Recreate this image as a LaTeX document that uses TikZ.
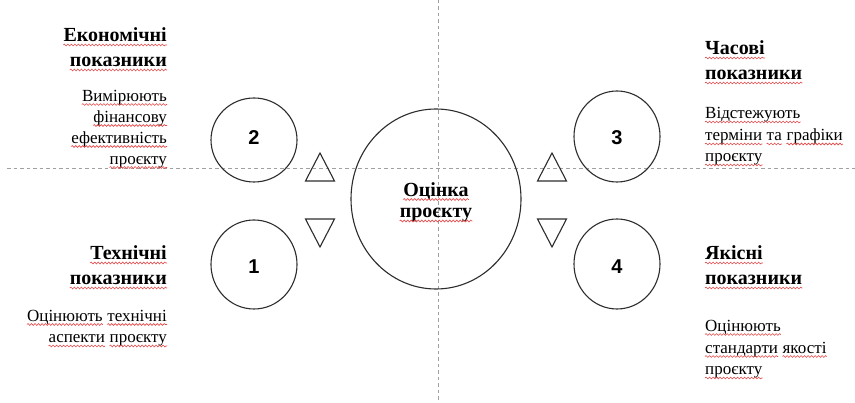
\documentclass[tikz,border=0pt]{standalone}
\usepackage{fontspec}
\setmainfont{Liberation Serif}
\newfontfamily\numfont{Liberation Sans}
\usetikzlibrary{shapes.geometric,decorations.pathmorphing}

\definecolor{wavered}{RGB}{230,70,70}
\definecolor{guide}{RGB}{160,160,160}
\definecolor{ink}{RGB}{45,45,45}

\tikzset{
  title/.style={font=\fontsize{20}{20}\selectfont\bfseries, inner sep=0pt},
  desc/.style={font=\fontsize{17}{17}\selectfont, inner sep=0pt},
  num/.style={font=\numfont\bfseries\fontsize{20}{20}\selectfont, inner sep=0pt},
  ring/.style={draw=ink, line width=1.1pt, ellipse, inner sep=0pt},
  tri/.style={draw=ink, line width=1.1pt, line join=miter},
  guideline/.style={draw=guide, line width=0.8pt, dash pattern=on 3.5pt off 3pt},
  wavy/.style={draw=wavered, line width=0.6pt,
    decorate, decoration={snake, segment length=3.5pt, amplitude=0.9pt}}
}
% spell-check style wavy underline below a word node
\newcommand\squiggle[1]{%
  \foreach \w in {#1}
    \draw[wavy] ([yshift=-3pt]\w.base west) -- ([yshift=-3pt]\w.base east);}

\begin{document}
\begin{tikzpicture}[x=1pt, y=-1pt]
\fill[white] (0,0) rectangle (855,403);
\useasboundingbox (0,0) rectangle (855,403);

% axes
\coordinate (hL) at (7,168);
\coordinate (hR) at (855,168);
\coordinate (vT) at (438,0);
\coordinate (vB) at (438,403);
\draw[guideline] (hL) -- (hR);
\draw[guideline] (vT) -- (vB);

% central ellipse
\node[ring, minimum width=170pt, minimum height=180pt] (core) at (436,199) {};
\node[title, anchor=base] (coreA) at (436,196.5) {Оцінка};
\node[title, anchor=base] (coreB) at (436,218) {проєкту};

% numbered circles
\node[ring, minimum width=86pt, minimum height=84pt] (c2) at (254,140) {};
\node[ring, minimum width=86pt, minimum height=91pt] (c3) at (617,136.5) {};
\node[ring, minimum width=86pt, minimum height=89pt] (c1) at (254,264.5) {};
\node[ring, minimum width=86pt, minimum height=90pt] (c4) at (617,264) {};
\node[num, anchor=base] (n2) at (254,144.5) {2};
\node[num, anchor=base] (n3) at (617,144.5) {3};
\node[num, anchor=base] (n1) at (254,273.5) {1};
\node[num, anchor=base] (n4) at (617,273.5) {4};

% triangles
\draw[tri] (305.5,181) -- (320,153) -- (334.5,181) -- cycle;
\draw[tri] (305.5,219) -- (320,247) -- (334.5,219) -- cycle;
\draw[tri] (537.5,181) -- (552,153) -- (566.5,181) -- cycle;
\draw[tri] (537.5,219) -- (552,247) -- (566.5,219) -- cycle;

% economic
\node[title, anchor=base east] (ecoA) at (167,42) {Економічні};
\node[title, anchor=base east] (ecoB) at (167,67) {показники};
\node[desc, anchor=base east] (ecoC) at (167,101.5) {Вимірюють};
\node[desc, anchor=base east] (ecoD) at (167,122.5) {фінансову};
\node[desc, anchor=base east] (ecoE) at (167,143.5) {ефективність};
\node[desc, anchor=base east] (ecoF) at (167,164.5) {проєкту};

% time
\node[title, anchor=base west] (timA) at (705,55) {Часові};
\node[title, anchor=base west] (timB) at (705,80) {показники};
\node[desc, anchor=base west] (timC) at (705,119) {Відстежують};
\node[desc, anchor=base west] (timD) at (705,141) {терміни};
\node[desc, anchor=base west] (timDb) at ([xshift=4.25pt]timD.base east) {та};
\node[desc, anchor=base west] (timDc) at ([xshift=4.25pt]timDb.base east) {графіки};
\node[desc, anchor=base west] (timE) at (705,162) {проєкту};

% technical
\node[title, anchor=base east] (tecA) at (167,260) {Технічні};
\node[title, anchor=base east] (tecB) at (167,285) {показники};
\node[desc, anchor=base east] (tecCb) at (167,321.5) {технічні};
\node[desc, anchor=base east] (tecC) at ([xshift=-4.25pt]tecCb.base west) {Оцінюють};
\node[desc, anchor=base east] (tecDb) at (167,343) {проєкту};
\node[desc, anchor=base east] (tecD) at ([xshift=-4.25pt]tecDb.base west) {аспекти};

% quality
\node[title, anchor=base west] (quaA) at (705,260) {Якісні};
\node[title, anchor=base west] (quaB) at (705,285) {показники};
\node[desc, anchor=base west] (quaC) at (705,331.5) {Оцінюють};
\node[desc, anchor=base west] (quaD) at (705,353.5) {стандарти};
\node[desc, anchor=base west] (quaDb) at ([xshift=4.25pt]quaD.base east) {якості};
\node[desc, anchor=base west] (quaE) at (705,375) {проєкту};

% spell-check marks
\squiggle{coreA,coreB,ecoA,ecoB,ecoC,ecoD,ecoE,ecoF,timA,timB,timC,timD,timDb,timDc,timE,
  tecA,tecB,tecC,tecCb,tecD,tecDb,quaA,quaB,quaC,quaD,quaDb,quaE}
\end{tikzpicture}
\end{document}
